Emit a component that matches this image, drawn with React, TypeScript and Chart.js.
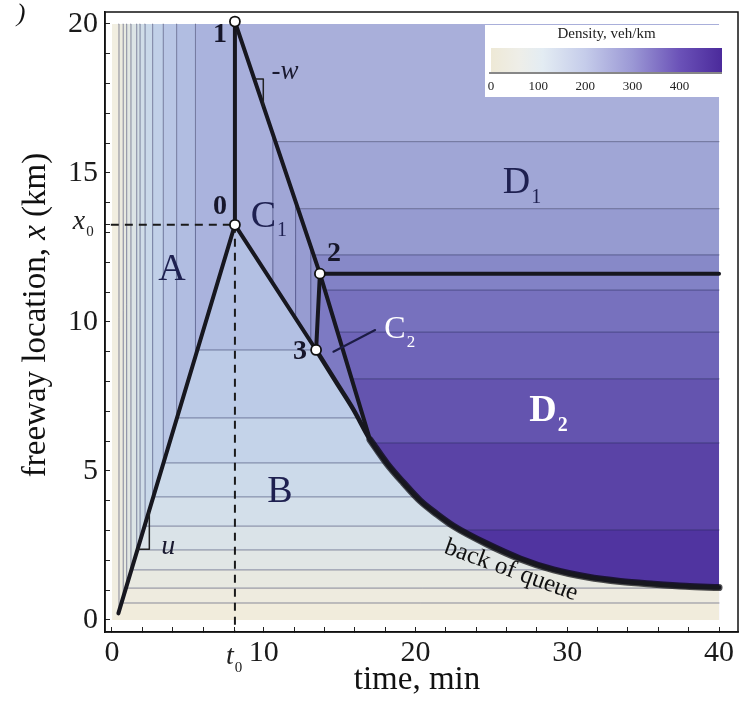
import React, { useEffect, useRef } from 'react';
import { Chart, registerables } from 'chart.js';

Chart.register(...registerables);

// ---------------- data (time in min, freeway location in km) ----------------
const T0 = 8.1;
const X0 = 13.26;
const point0 = { x: 8.1, y: 13.26 };
const point1 = { x: 8.1, y: 20.08 };
const point2 = { x: 13.7, y: 11.62 };
const point3 = { x: 13.45, y: 9.06 };
const uLineStart = { x: 0.42, y: 0.22 };
const wTangent = { x: 17.0, y: 6.05 };
const T_END = 40;
const X_TOP = 20;

// back of queue
const queueTimes = [13.45, 14.81, 15.91, 17.0, 18.11, 19.2, 20.3, 21.4, 22.5, 24.7, 26.9, 29.1, 31.3, 33.5, 35.7, 37.8, 40];
const queueLocs = [9.06, 7.95, 7.06, 6.05, 5.25, 4.6, 4.0, 3.55, 3.15, 2.55, 2.05, 1.68, 1.44, 1.29, 1.2, 1.13, 1.09];

// density bands
const aEdges = [0, 0.46, 0.74, 0.97, 1.25, 1.63, 1.85, 2.18, 2.68, 3.38, 4.26, 5.5, T0];
const aColors = ['#F1EEE1', '#ECEBDF', '#E7E9E0', '#E2E7E3', '#DCE4E5', '#D6E1E7', '#D0DDE8', '#C9D8E9', '#C1D0E8', '#B9C6E5', '#B1BDE1', '#AAB3DD'];
const bEdges = [0, 0.57, 1.07, 1.68, 2.35, 3.15, 4.13, 5.27, 6.78, 9.06, X0];
const bColors = ['#F1ECDC', '#EEEBDF', '#E8E9E1', '#E1E6E5', '#DAE3E8', '#D3DFEA', '#CCDAEA', '#C4D3E9', '#BCCBE7', '#B3C0E3'];
const cEdges = [T0, 10.6, 12.1, 13.1, 13.7];
const cColors = ['#A8AFDB', '#A0A6D6', '#979CD1', '#8E91CB'];
const dEdges = [0, 3.02, 5.94, 8.09, 9.66, 11.07, 11.62, 12.25, 13.8, 16.05, X_TOP];
const dColors = ['#5034A0', '#5A43A6', '#6454AF', '#6E64B8', '#7771BE', '#8282C6', '#8789C8', '#969BD0', '#A0A6D6', '#A9AFDA'];
const c2Color = '#7D7AC3';

// small slope marks and label pointer
const slopeMarkU = [{ x: 1.7, y: 2.37 }, { x: 2.46, y: 2.37 }, { x: 2.46, y: 3.6 }];
const slopeMarkW = [{ x: 9.43, y: 18.15 }, { x: 9.97, y: 18.15 }, { x: 9.97, y: 17.24 }];
const c2Pointer = [{ x: 14.59, y: 9.0 }, { x: 17.34, y: 9.73 }];

// ticks
const xTickValues = [0, 2, 4, 6, T0, 10, 12, 14, 16, 18, 20, 22, 24, 26, 28, 30, 32, 34, 36, 38, 40];
const xTickLabels = [0, 10, 20, 30, 40];
const yTickValues = [0, 1, 2, 3, 4, 5, 6, 7, 8, 9, 10, 11, 12, 13, X0, 14, 15, 16, 17, 18, 19, 20];
const yTickLabels = [0, 5, 10, 15, 20];

// colour bar
const legendTicks = [0, 100, 200, 300, 400];
const legendMax = 490;
const legendStopValues = [0, 60, 110, 200, 300, 400, 490];
const legendStopColors = ['#EEE9D6', '#EEEEE8', '#E3ECF3', '#C5CCEA', '#9B98D5', '#6B52B8', '#4B2A9B'];

// ---------------- geometry helpers ----------------
type Pt = { x: number; y: number };
const queuePts: Pt[] = queueTimes.map((t, i) => ({ x: t, y: queueLocs[i] }));
const boundary: Pt[] = [point0, ...queuePts]; // top edge of region B
const wLine: Pt[] = [point1, point2, wTangent];

function atT(pts: Pt[], t: number): number {
  for (let i = 0; i < pts.length - 1; i++) {
    const a = pts[i], b = pts[i + 1];
    if (t >= Math.min(a.x, b.x) && t <= Math.max(a.x, b.x)) {
      if (b.x === a.x) return a.y;
      return a.y + ((b.y - a.y) * (t - a.x)) / (b.x - a.x);
    }
  }
  const f = pts[0], l = pts[pts.length - 1];
  return Math.abs(t - f.x) < Math.abs(t - l.x) ? f.y : l.y;
}
function atY(pts: Pt[], y: number): number {
  for (let i = 0; i < pts.length - 1; i++) {
    const a = pts[i], b = pts[i + 1];
    if (y >= Math.min(a.y, b.y) && y <= Math.max(a.y, b.y)) {
      if (b.y === a.y) return a.x;
      return a.x + ((b.x - a.x) * (y - a.y)) / (b.y - a.y);
    }
  }
  const f = pts[0], l = pts[pts.length - 1];
  return Math.abs(y - f.y) < Math.abs(y - l.y) ? f.x : l.x;
}
const uSlope = (point0.y - uLineStart.y) / (point0.x - uLineStart.x);
const uAt = (t: number) => uLineStart.y + (t - uLineStart.x) * uSlope;
const uInv = (y: number) => uLineStart.x + (y - uLineStart.y) / uSlope;
const tRight = (y: number) => atY(boundary, y);
const c1Bottom = (t: number) => (t <= point3.x ? atT([point0, point3], t) : atT([point3, point2], t));

function bPoly(ya: number, yb: number): Pt[] {
  const inner = boundary.filter((p) => p.y > ya && p.y < yb).sort((p, q) => p.y - q.y);
  return [{ x: 0, y: ya }, { x: tRight(ya), y: ya }, ...inner, { x: tRight(yb), y: yb }, { x: 0, y: yb }];
}
function aPoly(ta: number, tb: number): Pt[] {
  return [
    { x: ta, y: Math.max(0, uAt(ta)) },
    { x: tb, y: Math.max(0, uAt(tb)) },
    { x: tb, y: X_TOP },
    { x: ta, y: X_TOP },
  ];
}
function cPoly(ta: number, tb: number): Pt[] {
  const pts: Pt[] = [{ x: ta, y: c1Bottom(ta) }];
  if (ta < point3.x && tb > point3.x) pts.push({ ...point3 });
  pts.push({ x: tb, y: c1Bottom(tb) }, { x: tb, y: atT(wLine, tb) }, { x: ta, y: atT(wLine, ta) });
  return pts;
}
function dPoly(ya: number, yb: number): Pt[] {
  return [{ x: T0, y: ya }, { x: T_END, y: ya }, { x: T_END, y: yb }, { x: T0, y: yb }];
}
const c2Poly: Pt[] = [point2, ...queuePts.filter((p) => p.x <= wTangent.x)];

// ---------------- datasets ----------------
const polyDs = (pts: Pt[], color: string) => ({
  data: pts,
  fill: 'shape',
  backgroundColor: color,
  borderColor: 'transparent',
  borderWidth: 0,
  pointRadius: 0,
  tension: 0,
});
const lineDs = (pts: Pt[], color: string, width: number, dash: number[] = [], smooth = false) => ({
  data: pts,
  fill: false,
  borderColor: color,
  borderWidth: width,
  borderDash: dash,
  borderJoinStyle: 'round',
  borderCapStyle: dash.length ? 'butt' : 'round',
  pointRadius: 0,
  tension: 0,
  cubicInterpolationMode: smooth ? 'monotone' : 'default',
});

function buildDatasets() {
  const ds: any[] = [];
  for (let i = 0; i < dColors.length; i++) ds.push(polyDs(dPoly(dEdges[i], dEdges[i + 1]), dColors[i]));
  for (let i = 0; i < bColors.length; i++) ds.push(polyDs(bPoly(bEdges[i], bEdges[i + 1]), bColors[i]));
  for (let i = 0; i < cColors.length; i++) ds.push(polyDs(cPoly(cEdges[i], cEdges[i + 1]), cColors[i]));
  ds.push(polyDs(c2Poly, c2Color));
  for (let i = 0; i < aColors.length; i++) ds.push(polyDs(aPoly(aEdges[i], aEdges[i + 1]), aColors[i]));

  const thin = 'rgba(35,40,85,0.5)';
  aEdges.slice(1, -1).forEach((e) => ds.push(lineDs([{ x: e, y: Math.max(0, uAt(e)) }, { x: e, y: X_TOP }], thin, 1)));
  bEdges.slice(1, -1).forEach((y) => ds.push(lineDs([{ x: uInv(y), y }, { x: tRight(y), y }], thin, 1)));
  cEdges.slice(1, -1).forEach((e) => ds.push(lineDs([{ x: e, y: c1Bottom(e) }, { x: e, y: atT(wLine, e) }], thin, 1)));
  dEdges.slice(1, -1).forEach((y) => {
    if (y === point2.y) return;
    const left = y > wTangent.y ? atY(wLine, y) : tRight(y);
    ds.push(lineDs([{ x: left, y }, { x: T_END, y }], thin, 1));
  });

  const ink = '#17171f';
  ds.push(lineDs(queuePts.filter((p) => p.x >= wTangent.x), 'rgba(5,5,10,0.7)', 7, [], true));
  ds.push(lineDs(queuePts, ink, 4.5, [], true));
  ds.push(lineDs([uLineStart, point0], ink, 4));
  ds.push(lineDs([point0, point1], ink, 4));
  ds.push(lineDs(wLine, ink, 4));
  ds.push(lineDs([point0, point3], ink, 4));
  ds.push(lineDs([point3, point2], ink, 4));
  ds.push(lineDs([point2, { x: T_END, y: point2.y }], ink, 4));
  ds.push(lineDs([{ x: -1, y: X0 }, point0], '#1a1a1a', 2, [8, 6]));
  ds.push(lineDs([point0, { x: T0, y: -1 }], '#1a1a1a', 2, [8, 6]));
  ds.push(lineDs(slopeMarkU, '#222', 1.5));
  ds.push(lineDs(slopeMarkW, '#222', 1.5));
  ds.push(lineDs(c2Pointer, '#1c1c45', 2));
  ds.push({
    data: [point0, point1, point2, point3],
    showLine: false,
    pointRadius: 5,
    pointBackgroundColor: '#ffffff',
    pointBorderColor: '#111111',
    pointBorderWidth: 1.8,
  });
  ds.forEach((d, i) => (d.order = -i));
  return ds;
}

// ---------------- text overlay ----------------
const SERIF = '"Liberation Serif", "Times New Roman", Times, serif';
const mkFont = (size: number, style = '', weight = '') => `${style} ${weight} ${size}px ${SERIF}`.replace(/\s+/g, ' ').trim();

type Label = { text: string; sub?: string; t: number; x: number; size: number; color: string; style?: string; weight?: string };
const regionLabels: Label[] = [
  { text: 'A', t: 3.96, x: 11.74, size: 38, color: '#1e2050' },
  { text: 'B', t: 11.07, x: 4.31, size: 38, color: '#1e2050' },
  { text: 'C', sub: '1', t: 9.97, x: 13.53, size: 38, color: '#1e2050' },
  { text: 'D', sub: '1', t: 26.66, x: 14.65, size: 38, color: '#1e2050' },
  { text: 'D', sub: '2', t: 28.4, x: 6.99, size: 38, color: '#ffffff', weight: 'bold' },
  { text: 'C', sub: '2', t: 18.65, x: 9.73, size: 32, color: '#ffffff' },
  { text: '1', t: 7.12, x: 19.63, size: 28, color: '#16162a', weight: 'bold' },
  { text: '0', t: 7.12, x: 13.85, size: 28, color: '#16162a', weight: 'bold' },
  { text: '2', t: 14.63, x: 12.28, size: 28, color: '#16162a', weight: 'bold' },
  { text: '3', t: 12.39, x: 9.01, size: 28, color: '#16162a', weight: 'bold' },
  { text: '-w', t: 11.4, x: 18.4, size: 27, color: '#1a1a30', style: 'italic' },
  { text: 'u', t: 3.71, x: 2.46, size: 28, color: '#1a1a30', style: 'italic' },
];

function drawLabel(ctx: CanvasRenderingContext2D, cx: number, cy: number, l: { text: string; sub?: string; size: number; color: string; style?: string; weight?: string }) {
  ctx.fillStyle = l.color;
  ctx.font = mkFont(l.size, l.style, l.weight);
  ctx.textAlign = 'center';
  ctx.textBaseline = 'middle';
  ctx.fillText(l.text, cx, cy);
  if (l.sub) {
    const w = ctx.measureText(l.text).width;
    ctx.font = mkFont(Math.round(l.size * 0.52), '', l.weight);
    ctx.textAlign = 'left';
    ctx.fillText(l.sub, cx + w / 2 + 1, cy + l.size * 0.38);
  }
}

const overlayPlugin = {
  id: 'overlay',
  afterDraw(chart: any) {
    const { ctx, chartArea } = chart;
    const sx = chart.scales.x, sy = chart.scales.y;
    const px = (t: number) => sx.getPixelForValue(t);
    const py = (v: number) => sy.getPixelForValue(v);
    ctx.save();

    regionLabels.forEach((l) => drawLabel(ctx, px(l.t), py(l.x), l));

    // back of queue
    ctx.save();
    ctx.translate(px(26.3), py(1.66));
    ctx.rotate((20 * Math.PI) / 180);
    ctx.fillStyle = '#111';
    ctx.font = mkFont(25);
    ctx.textAlign = 'center';
    ctx.textBaseline = 'middle';
    ctx.fillText('back of queue', 0, 0);
    ctx.restore();

    // t0 and x0 axis labels
    drawLabel(ctx, px(T0) - 5, chartArea.bottom + 25, { text: 't', sub: '0', size: 28, color: '#222', style: 'italic' });
    drawLabel(ctx, 79, py(X0) - 3, { text: 'x', sub: '0', size: 28, color: '#222', style: 'italic' });

    // colour bar
    const L = { left: 485, top: 25, right: 724, bottom: 97, barLeft: 491, barRight: 722, barTop: 48, barBottom: 72 };
    ctx.fillStyle = '#ffffff';
    ctx.fillRect(L.left, L.top, L.right - L.left, L.bottom - L.top);
    const g = ctx.createLinearGradient(L.barLeft, 0, L.barRight, 0);
    legendStopValues.forEach((v, i) => g.addColorStop(v / legendMax, legendStopColors[i]));
    ctx.fillStyle = g;
    ctx.fillRect(L.barLeft, L.barTop, L.barRight - L.barLeft, L.barBottom - L.barTop);
    ctx.strokeStyle = '#111';
    ctx.lineWidth = 1.2;
    ctx.beginPath();
    ctx.moveTo(L.barLeft - 2, L.barBottom + 1);
    ctx.lineTo(L.barRight, L.barBottom + 1);
    ctx.stroke();
    ctx.fillStyle = '#222';
    ctx.font = mkFont(13);
    ctx.textAlign = 'center';
    ctx.textBaseline = 'middle';
    legendTicks.forEach((v) => ctx.fillText(String(v), L.barLeft + (v / legendMax) * (L.barRight - L.barLeft), 87));
    ctx.font = mkFont(15);
    ctx.fillText('Density, veh/km', (L.barLeft + L.barRight) / 2, 34);

    // frame
    ctx.strokeStyle = '#111';
    ctx.lineWidth = 1.5;
    ctx.strokeRect(chartArea.left, chartArea.top, chartArea.right - chartArea.left, chartArea.bottom - chartArea.top);

    // axis titles
    ctx.fillStyle = '#111';
    ctx.font = mkFont(33);
    ctx.textAlign = 'center';
    ctx.textBaseline = 'alphabetic';
    ctx.fillText('time, min', 417, 689);

    // y title with italic x
    const parts = [
      { s: 'freeway location, ', f: mkFont(33) },
      { s: 'x', f: mkFont(33, 'italic') },
      { s: ' (km)', f: mkFont(33) },
    ];
    const widths = parts.map((p) => {
      ctx.font = p.f;
      return ctx.measureText(p.s).width;
    });
    const total = widths.reduce((a, b) => a + b, 0);
    ctx.save();
    ctx.translate(45, 315);
    ctx.rotate(-Math.PI / 2);
    ctx.textAlign = 'left';
    let cur = -total / 2;
    parts.forEach((p, i) => {
      ctx.font = p.f;
      ctx.fillText(p.s, cur, 0);
      cur += widths[i];
    });
    ctx.restore();

    // remnant of panel label
    ctx.font = mkFont(26, 'italic');
    ctx.textAlign = 'center';
    ctx.textBaseline = 'middle';
    ctx.fillText(')', 21, 14);

    ctx.restore();
  },
};

export default function App() {
  const ref = useRef<HTMLCanvasElement>(null);
  useEffect(() => {
    if (!ref.current) return;
    const chart = new Chart(ref.current, {
      type: 'line',
      data: { datasets: buildDatasets() },
      options: {
        responsive: false,
        animation: false,
        events: [],
        layout: { padding: { top: 12, right: 14, left: 0, bottom: 0 } },
        plugins: { legend: { display: false }, tooltip: { enabled: false }, filler: { propagate: false } },
        scales: {
          x: {
            type: 'linear',
            min: -0.461,
            max: 41.25,
            afterBuildTicks: (s: any) => {
              s.ticks = xTickValues.map((v) => ({ value: v }));
            },
            afterFit: (s: any) => {
              s.height = 87;
              s.paddingLeft = 0;
              s.paddingRight = 0;
              s.paddingTop = 0;
              s.paddingBottom = 0;
            },
            ticks: {
              autoSkip: false,
              maxRotation: 0,
              padding: 8,
              color: '#1a1a1a',
              font: { family: SERIF, size: 30 },
              callback: (v: any) => (xTickLabels.includes(Number(v)) ? String(v) : ''),
            },
            grid: { drawOnChartArea: false, drawTicks: true, tickLength: -5, tickColor: '#222', tickWidth: 1 },
            border: { display: true, color: '#111', width: 1.5 },
          },
          y: {
            type: 'linear',
            min: -0.403,
            max: 20.4,
            afterBuildTicks: (s: any) => {
              s.ticks = yTickValues.map((v) => ({ value: v }));
            },
            afterFit: (s: any) => {
              s.width = 105;
              s.paddingLeft = 0;
              s.paddingRight = 0;
              s.paddingTop = 0;
              s.paddingBottom = 0;
            },
            ticks: {
              autoSkip: false,
              padding: 12,
              color: '#1a1a1a',
              font: { family: SERIF, size: 30 },
              callback: (v: any) => (yTickLabels.includes(Number(v)) ? String(v) : ''),
            },
            grid: { drawOnChartArea: false, drawTicks: true, tickLength: -5, tickColor: '#222', tickWidth: 1 },
            border: { display: true, color: '#111', width: 1.5 },
          },
        },
      } as any,
      plugins: [overlayPlugin as any],
    });
    return () => chart.destroy();
  }, []);
  return (
    <div style={{ position: 'absolute', left: 0, top: 0, width: 752, height: 719, background: '#ffffff' }}>
      <canvas ref={ref} width={752} height={719} style={{ display: 'block' }} />
    </div>
  );
}
